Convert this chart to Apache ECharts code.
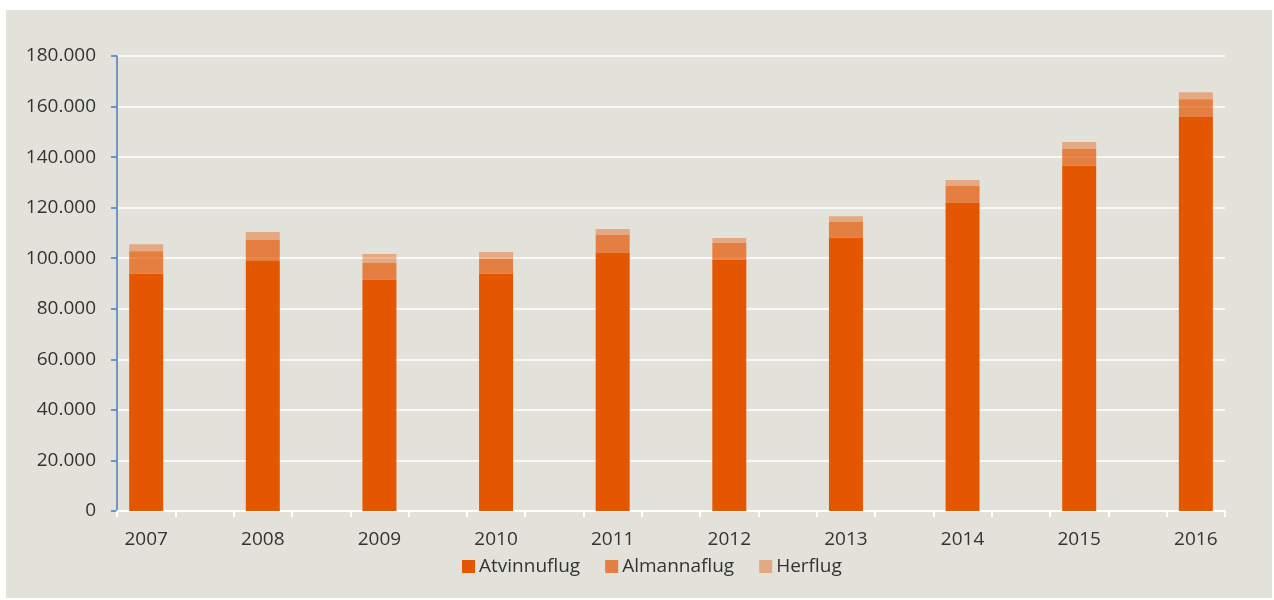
<!DOCTYPE html>
<html>
<head>
<meta charset="utf-8">
<script src="https://cdn.jsdelivr.net/npm/echarts@6/dist/echarts.min.js"></script>
<style>
  html, body { margin: 0; padding: 0; background: #ffffff; }
  #bg { position: absolute; left: 6px; top: 10px; width: 1266px; height: 588px; background: #e3e2da; }
  #chart { position: absolute; left: 0; top: 0; width: 1274px; height: 600px; }
</style>
</head>
<body>
<div id="bg"></div>
<div id="chart"></div>
<script>
const years = ['2007','2008','2009','2010','2011','2012','2013','2014','2015','2016'];
const atvinnuflug = [93900, 98900, 91500, 93900, 102300, 99400, 108100, 121800, 136600, 155900];
const almannaflug = [8900, 8400, 6700, 5800, 6900, 6600, 6300, 6800, 6600, 7000];
const herflug = [2700, 3100, 3500, 2800, 2400, 2000, 2200, 2300, 2800, 2800];
const yTicks = [0, 20000, 40000, 60000, 80000, 100000, 120000, 140000, 160000, 180000];

// every year is followed by an empty slot (as in the original chart)
const categories = [];
years.forEach((y, i) => { categories.push(y); if (i < years.length - 1) categories.push(y + '_gap'); });
function spread(arr) {
  const out = [];
  arr.forEach((v, i) => { out.push(v); if (i < arr.length - 1) out.push('-'); });
  return out;
}
function fmt(v) {
  return String(v).replace(/\B(?=(\d{3})+(?!\d))/g, '.');
}

const chart = echarts.init(document.getElementById('chart'), null, { renderer: 'canvas' });
const font = '"Open Sans", sans-serif';
const barStyle = (c) => ({ color: c, borderWidth: 0 });

chart.setOption({
  backgroundColor: 'transparent',
  animation: false,
  textStyle: { fontFamily: font },
  grid: { left: 117, right: 49, top: 56, bottom: 89, containLabel: false },
  legend: {
    left: 457, top: 552,
    icon: 'rect', itemWidth: 13, itemHeight: 13, itemGap: 25,
    textStyle: { fontFamily: font, fontSize: 19, color: '#333333', padding: [0, 0, 0, -1] },
    data: ['Atvinnuflug', 'Almannaflug', 'Herflug']
  },
  xAxis: {
    type: 'category',
    data: categories,
    boundaryGap: true,
    axisLine: { show: true, lineStyle: { color: '#ffffff', width: 2 } },
    axisTick: { show: true, interval: 0, length: 6, lineStyle: { color: '#ffffff', width: 2 } },
    axisLabel: {
      interval: 0, margin: 19, fontFamily: font, fontSize: 19, color: '#333333',
      formatter: (v) => (v.indexOf('_') >= 0 ? '' : v)
    },
    splitLine: { show: false }
  },
  yAxis: {
    type: 'value',
    min: yTicks[0], max: yTicks[yTicks.length - 1], interval: yTicks[1] - yTicks[0],
    axisLine: { show: true, lineStyle: { color: '#4a7ebb', width: 1.5 } },
    axisTick: { show: true, length: 6, lineStyle: { color: '#4a7ebb', width: 1.5 } },
    axisLabel: { margin: 21, fontFamily: font, fontSize: 19, color: '#333333', formatter: fmt },
    splitLine: { show: true, lineStyle: { color: '#ffffff', width: 1.5 } }
  },
  series: [
    { name: 'Atvinnuflug', type: 'bar', stack: 'total', barWidth: 34, itemStyle: barStyle('#e55600'), data: spread(atvinnuflug) },
    { name: 'Almannaflug', type: 'bar', stack: 'total', barWidth: 34, itemStyle: barStyle('rgba(229,86,0,0.7)'), data: spread(almannaflug) },
    { name: 'Herflug', type: 'bar', stack: 'total', barWidth: 34, itemStyle: barStyle('rgba(229,86,0,0.4)'), data: spread(herflug) }
  ]
});
</script>
</body>
</html>
